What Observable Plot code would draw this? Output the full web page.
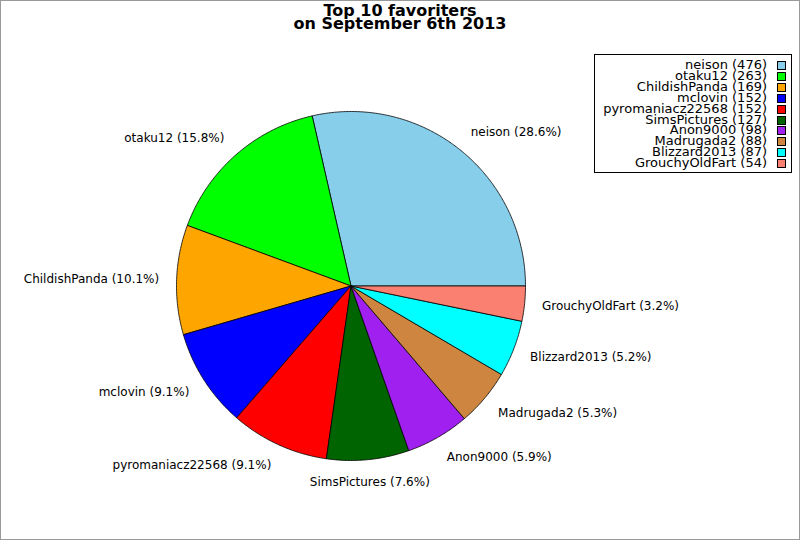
<!DOCTYPE html>
<html>
<head>
<meta charset="utf-8">
<script src="https://cdn.jsdelivr.net/npm/d3@7"></script>
<script src="https://cdn.jsdelivr.net/npm/@observablehq/plot@0.6"></script>
<style>
  html, body { margin: 0; padding: 0; background: white; }
  #wrap { position: relative; width: 800px; height: 540px; overflow: hidden; font-family: "DejaVu Sans", sans-serif; }
  #frame { position: absolute; left: 0; top: 0; width: 800px; height: 540px; box-sizing: border-box; border: 1px solid #999; pointer-events: none; }
  #title { position: absolute; left: 0; top: 3.5px; width: 800px; text-align: center; font-weight: bold; font-size: 16px; line-height: 13px; color: black; }
  #legend { position: absolute; left: 594px; top: 54px; width: 198px; height: 119px; box-sizing: border-box; border: 1px solid black; background: white; }
  .row { position: absolute; right: 0; height: 11px; width: 198px; }
  .row .lab { position: absolute; right: 24px; top: -2px; font-size: 13px; line-height: 13px; white-space: nowrap; color: black; }
  .row .sw { position: absolute; right: 5px; top: 1px; width: 7px; height: 7px; border: 1px solid black; }
  #chart { position: absolute; left: 0; top: 0; }
</style>
</head>
<body>
<div id="wrap">
  <div id="chart"></div>
  <div id="title">Top 10 favoriters<br>on September 6th 2013</div>
  <div id="legend"></div>
  <div id="frame"></div>
</div>
<script>
const names = ["neison", "otaku12", "ChildishPanda", "mclovin", "pyromaniacz22568", "SimsPictures", "Anon9000", "Madrugada2", "Blizzard2013", "GrouchyOldFart"];
const counts = [476, 263, 169, 152, 152, 127, 98, 88, 87, 54];
const colors = ["#87ceeb", "#00ff00", "#ffa500", "#0000ff", "#ff0000", "#006400", "#a020f0", "#cd853f", "#00ffff", "#fa8072"];

const total = d3.sum(counts);
const wedgePts = [];
const labels = [];
let cum = 0;
names.forEach((name, i) => {
  const a0 = cum / total * 2 * Math.PI;
  cum += counts[i];
  const a1 = cum / total * 2 * Math.PI;
  const n = Math.max(2, Math.ceil((a1 - a0) / (Math.PI / 360)));
  wedgePts.push({name, x: 0, y: 0});
  for (let k = 0; k <= n; k++) {
    const a = a0 + (a1 - a0) * k / n;
    wedgePts.push({name, x: Math.cos(a), y: Math.sin(a)});
  }
  wedgePts.push({name, x: 0, y: 0});
  const mid = (a0 + a1) / 2;
  const c = Math.cos(mid);
  const pct = (counts[i] / total * 100).toFixed(1);
  labels.push({
    name,
    text: `${name} (${pct}%)`,
    x: 1.1 * c,
    y: 1.13 * Math.sin(mid),
    anchor: Math.abs(c) < 0.15 ? "middle" : (c > 0 ? "start" : "end")
  });
});

const textOpts = {x: "x", y: "y", text: "text", fontSize: 12, fill: "black"};
const chart = Plot.plot({
  width: 800,
  height: 540,
  margin: 0,
  style: {fontFamily: "DejaVu Sans", background: "transparent", overflow: "visible"},
  x: {domain: [-1, 1], range: [176, 525], axis: null},
  y: {domain: [-1, 1], range: [460, 111], axis: null},
  color: {domain: names, range: colors},
  marks: [
    Plot.line(wedgePts, {x: "x", y: "y", z: "name", fill: "name", stroke: "black", strokeWidth: 0.8, curve: "linear", strokeLinejoin: "round"}),
    Plot.text(labels.filter(d => d.anchor === "start"), {...textOpts, textAnchor: "start"}),
    Plot.text(labels.filter(d => d.anchor === "end"), {...textOpts, textAnchor: "end"}),
    Plot.text(labels.filter(d => d.anchor === "middle"), {...textOpts, textAnchor: "middle"})
  ]
});
document.getElementById("chart").appendChild(chart);

const legend = document.getElementById("legend");
names.forEach((name, i) => {
  const row = document.createElement("div");
  row.className = "row";
  row.style.top = (5 + i * 10.9) + "px";
  const lab = document.createElement("span");
  lab.className = "lab";
  lab.textContent = `${name} (${counts[i]})`;
  const sw = document.createElement("span");
  sw.className = "sw";
  sw.style.background = colors[i];
  row.appendChild(lab);
  row.appendChild(sw);
  legend.appendChild(row);
});
</script>
</body>
</html>
